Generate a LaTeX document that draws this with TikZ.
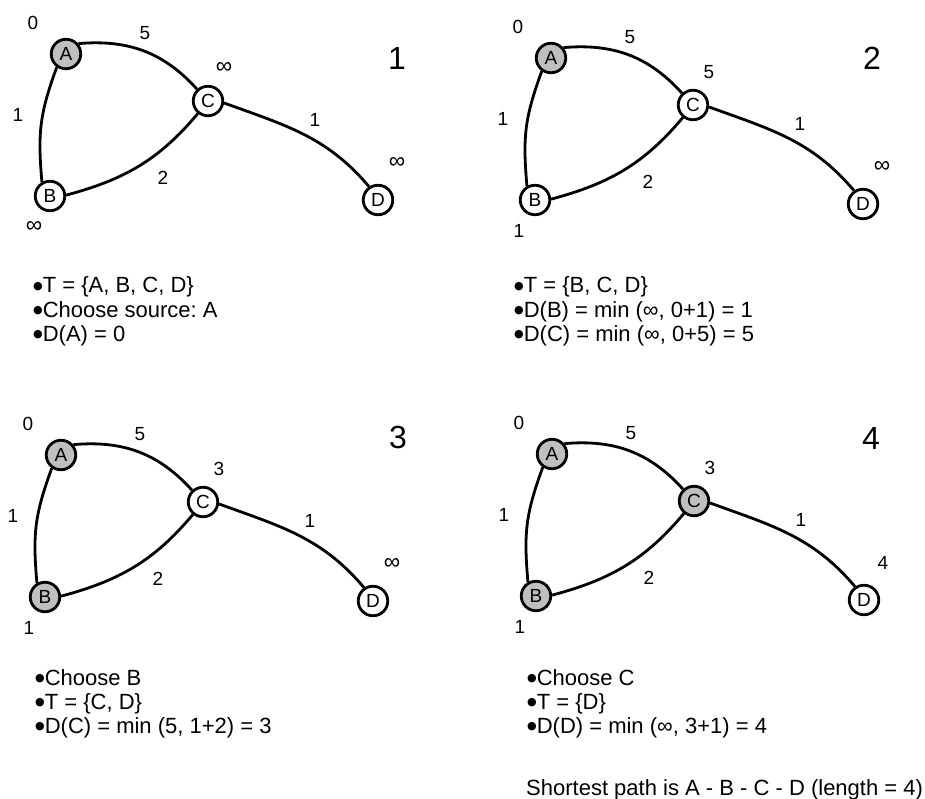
\documentclass[tikz,border=0pt]{standalone}
\usepackage{fontspec}
\setmainfont{Liberation Sans}
\newfontfamily\dingfont{DejaVu Sans}
\newcommand\blt{\raisebox{3.5pt}{\dingfont\fontsize{11}{11}\selectfont ●}}
\newcommand\unreached{{\fontsize{23}{23}\selectfont ∞}}
\frenchspacing
\begin{document}
\begin{tikzpicture}[x=1pt,y=-1pt,
  vertex/.style={circle,draw,line width=2.8pt,minimum size=29.5pt,inner sep=0pt,
    font=\fontsize{19}{19}\selectfont},
  open/.style={vertex,fill=white},
  visited/.style={vertex,fill=black!25},
  edge/.style={line width=2.8pt},
  weight/.style={inner sep=0pt,font=\fontsize{19}{19}\selectfont},
  stepnum/.style={inner sep=0pt,font=\fontsize{32}{32}\selectfont},
  note/.style={anchor=base west,inner sep=0pt,font=\fontsize{22}{24}\selectfont},
]
\useasboundingbox (0,0) rectangle (925,799);

% One snapshot of the graph:
% #1 prefix, #2 shift, #3-#5 styles of A, B, C, #6-#8 distances of B, C, D
\newcommand\graphpanel[8]{%
\begin{scope}[shift={(#2)}, name prefix=#1-]
  \node[#3] (A) at (66,54) {A};
  \node[#4] (B) at (50,196) {B};
  \node[#5] (C) at (208,101) {C};
  \node[open] (D) at (378,200) {D};
  \draw[edge] (A.40) to[out=5,in=132] (C.133);
  \draw[edge] (A.235) to[out=250,in=95,looseness=1.1] (B.120);
  \draw[edge] (B.3) to[out=15,in=230] (C.231);
  \draw[edge] (C.-7) to[out=-20,in=130] (D.124);
  % edge weights
  \node[weight] (wAC) at (145,33) {5};
  \node[weight] (wAB) at (18,115) {1};
  \node[weight] (wBC) at (163,178) {2};
  \node[weight] (wCD) at (315,120) {1};
  % tentative distances
  \node[weight] (dA) at (33,23) {0};
  \node[weight] (dB) at (34,227) {#6};
  \node[weight] (dC) at (224,68) {#7};
  \node[weight] (dD) at (397,163) {#8};
\end{scope}}

\graphpanel{p1}{0,0}{visited}{open}{open}{\unreached}{\unreached}{\unreached}
\graphpanel{p2}{485,4}{visited}{open}{open}{1}{5}{\unreached}
\graphpanel{p3}{-5,401}{visited}{visited}{open}{1}{3}{\unreached}
\graphpanel{p4}{486,400}{visited}{visited}{visited}{1}{3}{4}

% step numbers
\node[stepnum] (s1) at (397,58) {1};
\node[stepnum] (s2) at (872,58) {2};
\node[stepnum] (s3) at (398,437) {3};
\node[stepnum] (s4) at (871,438) {4};

% notes under each step
\node[note] (t1a) at (33,293) {\blt T = \{A, B, C, D\}};
\node[note] (t1b) at (33,317) {\blt Choose source: A};
\node[note] (t1c) at (33,341) {\blt D(A) = 0};

\node[note] (t2a) at (514,293) {\blt T = \{B, C, D\}};
\node[note] (t2b) at (514,317) {\blt D(B) = min (∞, 0+1) = 1};
\node[note] (t2c) at (514,341) {\blt D(C) = min (∞, 0+5) = 5};

\node[note] (t3a) at (35,685) {\blt Choose B};
\node[note] (t3b) at (35,709) {\blt T = \{C, D\}};
\node[note] (t3c) at (35,733) {\blt D(C) = min (5, 1+2) = 3};

\node[note] (t4a) at (527,685) {\blt Choose C};
\node[note] (t4b) at (527,709) {\blt T = \{D\}};
\node[note] (t4c) at (527,733) {\blt D(D) = min (∞, 3+1) = 4};
\node[note] (res) at (526,795) {Shortest path is A - B - C - D (length = 4)};
\end{tikzpicture}
\end{document}
